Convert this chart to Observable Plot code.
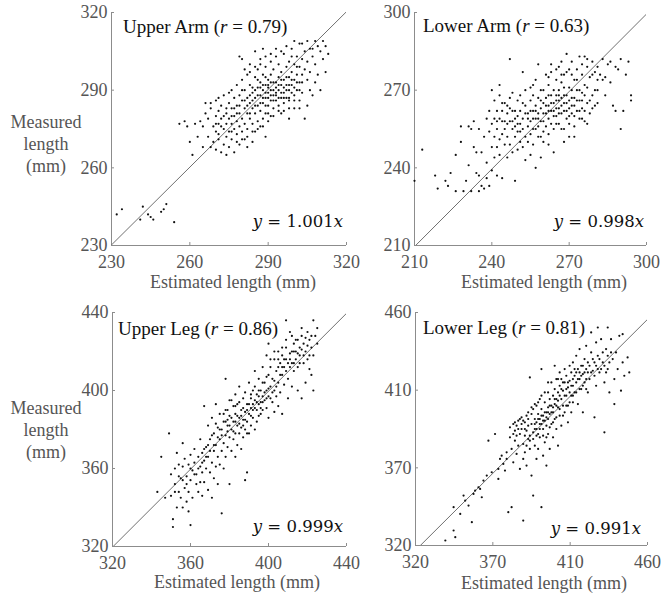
<!DOCTYPE html>
<html><head><meta charset="utf-8">
<script src="https://cdn.jsdelivr.net/npm/d3@7"></script>
<script src="https://cdn.jsdelivr.net/npm/@observablehq/plot@0.6"></script>
<style>
body{margin:0;background:#fff;}
#root{position:relative;width:661px;height:594px;overflow:hidden;font-family:"Liberation Serif","Times New Roman",serif;background:#fff;}
.t{position:absolute;white-space:nowrap;line-height:1;}
.title{font-size:19px;color:#111;transform:translateY(-50%);}
.eq{font-family:"DejaVu Serif",serif;font-size:16.5px;color:#111;transform:translateY(-50%);}
.xl{font-size:18px;color:#555;transform:translate(-50%,-50%);}
.yl{font-size:18px;color:#555;line-height:22px;text-align:center;transform:translate(-50%,-50%);}
</style></head><body><div id="root"></div>
<script>
// ---- data (estimated length, measured length) in mm ----
const upperArm = [[232,242],[234,244],[241,240],[242,245],[244,242],[245,241],[246,240],[249,243],[250,244],[251,246],[254,239],
[256,277],[258,278],[259,276],[260,270],[261,265],[262,277],[263,272],[264,278],[265,276],[265,268],
[266,285],[266,281],[267,279],[267,272],[268,268],[268,283],[269,276],[269,270],[270,286],[270,280],[270,274],[270,267],
[271,287],[271,282],[271,277],[271,271],[272,266],[272,284],[272,279],[273,275],[273,269],[273,288],[274,281],[274,277],[274,272],[274,265],[275,285],[275,279],[275,274],[275,268],
[276,290],[276,283],[276,277],[276,271],[277,287],[277,280],[277,275],[277,266],[278,292],[278,284],[278,278],[278,273],[279,303],[279,288],[279,281],[279,276],[279,269],[280,294],[280,286],[280,279],[280,274],[280,302],
[281,290],[281,283],[281,277],[281,271],[282,296],[282,287],[282,281],[282,275],[282,268],[283,300],[283,292],[283,285],[283,279],[284,289],[284,283],[284,277],[284,270],[285,305],[285,295],[285,287],[285,281],[285,274],
[286,298],[286,291],[286,284],[286,278],[287,302],[287,293],[287,288],[287,282],[287,276],[288,296],[288,290],[288,285],[288,279],[288,306],[289,299],[289,292],[289,287],[289,281],[289,272],[290,294],[290,289],[290,284],[290,278],[290,291],
[291,301],[291,296],[291,290],[291,286],[291,280],[292,293],[292,288],[292,283],[292,298],[293,303],[293,291],[293,286],[293,289],[294,295],[294,290],[294,284],[294,300],[295,292],[295,287],[295,281],[295,297],
[296,304],[296,294],[296,289],[296,285],[297,299],[297,292],[297,287],[298,301],[298,295],[298,290],[298,283],[299,306],[299,297],[299,292],[300,300],[300,294],[300,288],[300,309],
[301,303],[301,296],[301,290],[302,308],[302,299],[302,293],[302,286],[303,302],[303,296],[303,289],[304,305],[304,298],[304,279],[305,301],[305,294],[305,284],
[306,306],[306,297],[306,290],[307,303],[307,288],[308,309],[308,300],[308,293],[309,296],[310,305],[310,290],[311,302],[312,307],[312,297],[313,304],
[283,288],[284,291],[285,290],[286,288],[287,291],[288,292],[289,289],[290,287],[290,292],[291,288],[291,293],[292,290],[292,286],[293,293],[293,288],[294,292],[294,287],[295,289],[295,294],[296,291],[296,287],[297,290],[297,295],[298,292],[298,287],[299,289],[299,294],[300,291],[300,286],[301,293],[301,299],[302,290],[303,293],
[279,284],[280,290],[281,286],[282,284],[283,281],[284,286],[285,284],[286,294],[287,285],[288,287],[289,295],[289,284],[278,281],[277,283],[276,280],[274,283],[273,280],[272,276],[271,273],[276,274],[278,270],[280,271],[282,272],[284,274],[286,275],[288,276],[290,281],[292,280],[294,282],[296,282],[298,279],[300,283],[302,283],
[281,298],[283,297],[285,299],[287,300],[289,303],[291,304],[293,306],[295,305],[297,307],[299,303],[303,308],[305,309],[307,306],[309,307],[311,309],[298,286],[275,289],[270,277],[268,285]];

const lowerArm = [[210,235],[213,247],[218,237],[219,232],[222,235],[223,233],[224,238],
[226,231],[226,245],[228,250],[228,256],[229,231],[230,235],[231,256],[231,241],[232,255],[232,231],[233,258],[233,248],[234,238],[234,246],[235,231],[235,255],[235,237],
[236,233],[236,246],[237,232],[237,252],[238,259],[238,236],[238,242],[239,262],[239,254],[239,233],[240,248],[240,257],[240,239],[240,270],
[241,266],[241,252],[241,244],[241,259],[242,237],[242,262],[242,255],[242,248],[243,268],[243,251],[243,245],[243,272],[244,258],[244,253],[244,262],[244,236],[245,249],[245,265],[245,255],
[246,261],[246,252],[246,257],[246,244],[247,282],[247,267],[247,249],[247,263],[248,255],[248,258],[248,246],[248,269],[249,252],[249,262],[249,235],[249,256],[250,260],[250,247],[250,266],[250,254],
[251,268],[251,257],[251,250],[251,262],[252,277],[252,255],[252,248],[252,259],[253,264],[253,252],[253,243],[253,270],[254,256],[254,261],[254,250],[255,266],[255,258],[255,253],[255,245],[255,271],
[256,262],[256,255],[256,268],[256,249],[257,259],[257,274],[257,240],[257,264],[258,280],[258,256],[258,261],[258,267],[259,252],[259,244],[259,263],[260,270],[260,258],[260,265],[260,254],
[261,276],[261,261],[261,256],[261,267],[262,272],[262,259],[262,264],[262,249],[263,268],[263,262],[263,257],[263,277],[264,265],[264,260],[264,270],[264,246],[265,274],[265,263],[265,268],[265,257],
[266,279],[266,266],[266,261],[266,270],[267,273],[267,264],[267,255],[267,281],[268,268],[268,262],[268,250],[268,276],[269,284],[269,265],[269,259],[270,271],[270,263],[270,278],[270,252],
[271,267],[271,261],[271,281],[272,274],[272,264],[272,256],[273,270],[273,278],[273,262],[274,283],[274,266],[274,259],[275,276],[275,269],[275,263],
[276,283],[276,272],[276,258],[277,279],[277,265],[278,275],[278,261],[279,281],[279,268],[280,277],[280,264],[281,279],[281,270],
[283,282],[283,274],[284,268],[285,280],[286,273],[287,264],[288,262],[289,278],[290,255],[290,282],[291,262],[292,276],[293,281],[294,268],[294,266],
[254,259],[255,262],[256,259],[257,262],[258,259],[259,266],[259,258],[260,261],[261,264],[262,262],[262,268],[263,265],[264,262],[265,266],[265,260],[266,263],[266,268],[267,267],[267,261],[268,265],[268,271],[269,268],[269,262],[270,266],[270,260],[271,270],[271,264],[272,267],[272,260],[273,266],[274,270],[274,262],[275,266],[275,259],[276,268],[276,262],[277,271],[277,257],[278,266],[279,263],[280,270],[281,265],[282,276],
[253,261],[252,265],[251,254],[250,257],[249,259],[248,262],[247,258],[246,264],[245,258],[244,265],[243,259],[242,258],[257,255],[258,252],[260,250],[262,253],[264,255],[266,257],[268,255],[270,257],[272,252],
[265,278],[263,280],[267,276],[269,277],[271,276],[273,274],[275,280],[277,282],[279,276],[281,274],[284,275],[286,281],[288,279],[262,275],[259,270],[256,272]];

const upperLeg = [[343,348],[345,366],[347,345],[349,378],[350,357],[350,346],[351,334],[351,330],[352,352],[352,360],[353,340],[353,368],[354,348],[354,362],[355,355],[355,345],
[356,340],[356,361],[356,373],[357,350],[357,365],[358,343],[358,356],[359,362],[359,348],[359,338],[360,331],[360,367],[360,354],[361,359],[361,345],[362,370],[362,363],[363,352],[363,357],[364,366],[364,348],[365,361],[365,375],[365,353],
[366,358],[366,368],[366,346],[367,392],[367,364],[367,353],[368,371],[368,360],[369,349],[369,382],[369,366],[370,375],[370,358],[371,363],[371,386],[371,345],[372,378],[372,369],[372,355],[373,393],[373,372],[373,361],[374,381],[374,366],[374,352],[375,375],[375,388],[375,362],
[376,369],[376,337],[376,380],[377,384],[377,373],[377,360],[378,406],[378,390],[378,377],[378,366],[379,382],[379,371],[379,385],[380,395],[380,376],[380,352],[380,387],[381,380],[381,369],[382,392],[382,384],[382,375],[383,398],[383,388],[383,378],[383,366],[384,382],[384,393],[384,372],[385,386],[385,378],[385,402],
[386,390],[386,381],[386,370],[387,396],[387,385],[387,376],[388,399],[388,389],[388,380],[388,354],[389,393],[389,384],[389,358],[390,404],[390,388],[390,378],[391,396],[391,391],[391,382],[392,400],[392,393],[392,386],[393,410],[393,395],[393,380],[394,398],[394,390],[394,384],[395,406],[395,393],[395,387],
[396,400],[396,394],[396,388],[397,412],[397,397],[397,390],[398,404],[398,395],[399,418],[399,400],[399,391],[400,424],[400,408],[400,397],[400,386],[401,412],[401,402],[402,394],[402,406],[403,416],[403,400],[403,389],[404,410],[404,397],[405,420],[405,404],[405,392],
[406,414],[406,399],[407,418],[407,408],[407,388],[408,412],[408,403],[409,436],[409,422],[409,416],[410,406],[410,396],[411,419],[411,412],[412,428],[412,414],[412,402],[413,420],[413,410],[414,416],[414,426],[415,412],[415,400],
[416,422],[416,418],[417,396],[417,428],[418,414],[418,424],[419,404],[419,420],[420,430],[420,416],[421,411],[421,426],[422,422],[422,408],[423,436],[423,400],[423,418],[424,428],[425,432],[425,424],
[378,384],[379,379],[380,382],[381,386],[382,379],[383,384],[384,387],[385,383],[386,387],[387,391],[388,385],[389,390],[390,393],[391,387],[392,390],[393,391],[394,394],[395,397],[396,391],[397,394],[398,399],[399,396],[400,401],[401,396],[402,399],[403,405],[404,402],[405,412],[406,408],[407,412],[408,416],[409,410],[410,414],[411,416],[412,420],[413,414],[414,420],[415,419],[416,414],[417,421],[418,418],[419,427],[420,423],[421,418],[422,428],
[360,360],[362,357],[364,360],[366,363],[368,366],[370,369],[372,372],[374,376],[376,377],[358,352],[356,354],[354,356],[352,348],[367,370],[369,372],[371,377],[373,383],[375,380],[377,388],[379,390],[381,395],[383,392],[385,394],[387,382],[389,378],[391,398],[393,402],[395,400],[397,404],[399,407],[401,416],[403,420],[405,416],[407,422],[409,426],[411,430],[413,424],[415,426],[417,432]];

const lowerLeg = [[338,323],[343,343],[343,329],[344,325],[347,339],[349,350],[350,347],[352,344],[354,334],[355,351],[356,353],[358,355],[359,354],[360,349],
[361,359],[363,362],[364,383],[366,364],[368,387],[370,360],[370,366],[371,372],[372,374],[373,369],[374,365],[375,372],[375,376],
[376,340],[377,385],[377,391],[378,343],[378,378],[379,393],[379,370],[380,389],[380,383],[381,392],[381,375],[382,380],[382,395],[383,387],[383,366],[384,390],[384,397],[385,381],[385,335],[385,372],
[386,394],[386,386],[386,376],[387,398],[387,389],[387,368],[388,392],[388,384],[388,396],[389,421],[389,386],[389,378],[390,399],[390,393],[390,362],[391,388],[391,350],[391,402],[392,396],[392,390],[392,380],[393,404],[393,394],[393,372],[394,399],[394,387],[394,378],[395,408],[395,396],[395,390],
[396,426],[396,402],[396,393],[396,343],[397,398],[397,386],[397,374],[398,406],[398,395],[398,382],[399,400],[399,392],[399,368],[400,412],[400,403],[400,396],[400,387],[401,408],[401,399],[401,378],[402,418],[402,404],[402,393],[403,410],[403,400],[403,385],[404,414],[404,405],[404,396],[405,420],[405,408],[405,390],
[406,412],[406,403],[406,380],[407,424],[407,416],[407,398],[408,408],[408,420],[408,392],[409,413],[409,404],[410,426],[410,418],[410,400],[411,410],[411,422],[412,415],[412,404],[412,394],[413,428],[413,419],[414,410],[414,424],[414,400],[415,416],[415,430],[415,406],
[416,422],[416,412],[417,434],[417,418],[418,426],[418,405],[419,420],[419,438],[420,414],[420,428],[421,423],[421,400],[422,432],[422,418],[423,440],[423,426],[424,412],[424,430],[425,420],[426,448],[426,436],[427,425],[428,397],[428,430],[429,416],[429,442],
[430,451],[430,434],[431,424],[432,444],[433,430],[434,388],[434,418],[435,438],[436,451],[436,426],[437,412],[438,444],[439,432],[440,405],[440,420],[441,436],[442,426],[443,446],[444,413],[445,447],[445,430],[446,422],[448,433],[449,424],
[392,393],[393,390],[394,396],[395,393],[396,398],[397,395],[398,400],[399,397],[400,400],[401,404],[402,400],[403,403],[404,408],[405,404],[406,407],[407,410],[408,414],[409,418],[410,410],[411,414],[412,418],[413,412],[414,416],[415,420],[416,426],[417,424],[418,420],[419,424],[420,422],[421,428],[422,424],[423,420],[424,424],[425,428],[426,424],[427,432],[428,422],[429,428],[430,426],[431,432],[432,426],[433,436],[434,428],[435,424],[436,434],[437,430],[438,436],
[386,390],[385,395],[384,393],[383,396],[382,390],[381,386],[380,394],[379,387],[387,380],[389,383],[391,384],[393,386],[395,385],[397,390],[399,385],[401,391],[403,394],[405,397],[407,402],[409,398],[411,404],[413,406],[415,410],[417,412],[419,414],[421,416],[423,414],[404,428],[406,420],[400,418],[398,412],[396,410],[394,406],[392,405],[390,403],[388,400]];

const segmentNames = ["Upper Arm", "Lower Arm", "Upper Leg", "Lower Leg"];
const rValues = ["0.79", "0.63", "0.86", "0.81"];
const slopes = [1.001, 0.998, 0.999, 0.991];
const slopeLabels = ["1.001", "0.998", "0.999", "0.991"];
const domains = [[230, 320], [210, 300], [320, 440], [320, 460]];
const tickValues = [
  [230, 260, 290, 320],
  [210, 240, 270, 300],
  [320, 360, 400, 440],
  [320, 366.667, 413.333, 460]
];
const tickLabels = [
  ["230", "260", "290", "320"],
  ["210", "240", "270", "300"],
  ["320", "360", "400", "440"],
  ["320", "370", "410", "460"]
];
const series = [upperArm, lowerArm, upperLeg, lowerLeg];

// ---- layout (pixels) ----
const frames = [[111, 12, 346, 245], [414, 12, 646, 245], [112, 312, 346, 546], [415, 312, 647, 545]];
const titlePos = [[123, 26], [423, 25], [118, 328], [423, 327]];
const eqPos = [[343, 222], [644, 222], [343, 527], [641, 529]];
const xLabelPos = [[233, 282], [544, 282], [237, 582], [544, 583]];

const root = document.getElementById("root");
const axisColor = "#8c8c8c";

series.forEach((data, i) => {
  const [x0, y0, x1, y1] = frames[i];
  const ml = 50, mt = 12, mr = 14, mb = 40;
  const dom = domains[i];
  const ticks = tickValues[i];
  const labs = tickLabels[i];
  const fmt = d => labs[ticks.indexOf(d)];
  const k = slopes[i];
  const fw = x1 - x0, fh = y1 - y0;
  const svg = Plot.plot({
    width: fw + ml + mr,
    height: fh + mt + mb,
    marginLeft: ml, marginTop: mt, marginRight: mr, marginBottom: mb,
    style: {background: "transparent", overflow: "visible", fontFamily: "'Liberation Serif', 'Times New Roman', serif", fontSize: "18px", color: "#555"},
    x: {domain: dom, ticks: ticks, tickFormat: fmt, tickSize: 0, tickPadding: 10, label: null},
    y: {domain: dom, ticks: ticks, tickFormat: fmt, tickSize: 0, tickPadding: 4, label: null},
    marks: [
      Plot.ruleY([dom[0]], {stroke: axisColor, strokeWidth: 1}),
      Plot.ruleX([dom[0]], {stroke: axisColor, strokeWidth: 1}),
      Plot.tickX(ticks, {x: d => d, stroke: axisColor, insetTop: fh - 3}),
      Plot.tickY(ticks, {y: d => d, stroke: axisColor, insetRight: fw - 3}),
      Plot.line([[dom[0], k * dom[0]], [dom[1], k * dom[1]]], {x: d => d[0], y: d => d[1], stroke: "#707070", strokeWidth: 1, clip: true}),
      Plot.dot(data, {x: d => d[0], y: d => d[1], r: 1.1, fill: "#111", stroke: null})
    ]
  });
  svg.style.position = "absolute";
  svg.style.left = (x0 - ml) + "px";
  svg.style.top = (y0 - mt) + "px";
  root.appendChild(svg);

  const t = document.createElement("div");
  t.className = "t title";
  t.style.left = titlePos[i][0] + "px";
  t.style.top = titlePos[i][1] + "px";
  t.innerHTML = `${segmentNames[i]} (<i>r</i> = ${rValues[i]})`;
  root.appendChild(t);

  const e = document.createElement("div");
  e.className = "t eq";
  e.style.right = (661 - eqPos[i][0]) + "px";
  e.style.top = eqPos[i][1] + "px";
  e.innerHTML = `<i>y</i> = ${slopeLabels[i]}<i>x</i>`;
  root.appendChild(e);

  const xl = document.createElement("div");
  xl.className = "t xl";
  xl.style.left = xLabelPos[i][0] + "px";
  xl.style.top = xLabelPos[i][1] + "px";
  xl.textContent = "Estimated length (mm)";
  root.appendChild(xl);
});

[[46, 144], [46, 430]].forEach(([x, y]) => {
  const d = document.createElement("div");
  d.className = "t yl";
  d.style.left = x + "px";
  d.style.top = y + "px";
  d.innerHTML = "Measured<br>length<br>(mm)";
  root.appendChild(d);
});
</script></body></html>
